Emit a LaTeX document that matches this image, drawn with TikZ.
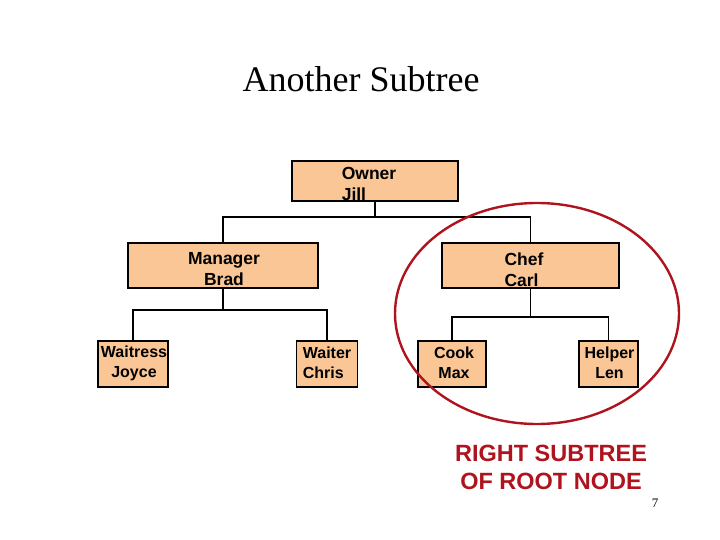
\documentclass[tikz,border=0pt]{standalone}
\usepackage{fontspec}
\setmainfont{Liberation Serif}
\setsansfont{Liberation Sans}
\usepackage{xcolor}
\usepackage{tikz}
\usetikzlibrary{positioning,calc}

\definecolor{boxfill}{RGB}{250,198,150}
\definecolor{ovalred}{RGB}{175,20,30}

\tikzset{
    person/.style={draw=black, line width=1.8pt, fill=boxfill, inner sep=0pt},
    who/.style={align=center, inner sep=0pt,
        font=\sffamily\bfseries\fontsize{16}{20}\selectfont},
    bigwho/.style={who, font=\sffamily\bfseries\fontsize{17.5}{21}\selectfont},
    link/.style={line width=1.8pt, black}
}

\begin{document}
\begin{tikzpicture}[x=1pt, y=-1pt]
        \useasboundingbox (0,0) rectangle (720,540);

        % Title
        \node (title) at (361,79) {\fontsize{36}{40}\selectfont Another Subtree};

        % Root
        \node[person, minimum width=166pt, minimum height=40pt,
            label={[bigwho, align=left, xshift=-6pt, yshift=-3pt]center:Owner\\Jill}] (owner) at (375,181) {};

        % Second level
        \node[person, minimum width=190pt, minimum height=45pt,
            label={[bigwho, xshift=1pt, yshift=-4pt]center:Manager\\Brad}] (manager) at (223,265.5) {};
        \node[person, minimum width=177pt, minimum height=45pt,
            label={[bigwho, align=left, xshift=-6.5pt, yshift=-4pt]center:Chef\\Carl}] (chef) at (530.5,265.5) {};

        % Leaves
        \node[person, minimum width=70pt, minimum height=46pt,
            label={[who, xshift=1pt, yshift=1pt]center:Waitress\\Joyce}] (waitress) at (133,364) {};
        \node[person, minimum width=61pt, minimum height=46pt,
            label={[who, align=left, yshift=1pt]center:Waiter\\Chris}] (waiter) at (327,364) {};
        \node[person, minimum width=68pt, minimum height=46pt,
            label={[who, xshift=2pt, yshift=1pt]center:Cook\\Max}] (cook) at (452,364) {};
        \node[person, minimum width=59pt, minimum height=46pt,
            label={[who, xshift=1pt, yshift=1pt]center:Helper\\Len}] (helper) at (608.5,364) {};

        % Connectors
        \draw[link] (owner.south) -- ++(0,15) -| (manager.north);
        \draw[link] (owner.south) -- ++(0,15) -| (chef.north);
        \draw[link] (manager.south) -- ++(0,21) -| (waitress.north);
        \draw[link] (manager.south) -- ++(0,21) -| (waiter.north);
        \draw[link] (chef.south) -- ++(0,28) -| (cook.north);
        \draw[link] (chef.south) -- ++(0,28) -| (helper.north);

        % Right subtree marker
        \draw[ovalred, line width=2.4pt] (537,313.5) ellipse (142 and 110.5);
        \node[text=ovalred, align=center, font=\sffamily\bfseries\fontsize{23.5}{28}\selectfont] (caption) at (551,467) {RIGHT SUBTREE\\OF ROOT NODE};

        % Page number
        \node[font=\fontsize{13}{15}\selectfont] (pagenum) at (655,503) {7};
    \end{tikzpicture}
\end{document}
